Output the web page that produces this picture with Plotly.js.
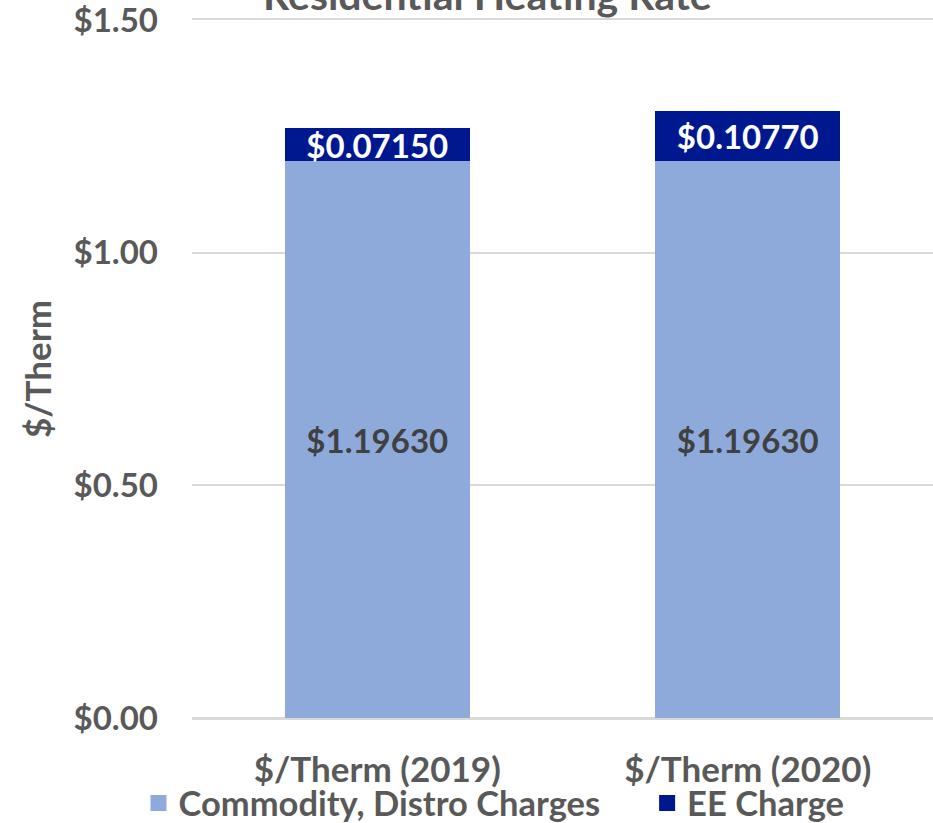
<!DOCTYPE html>
<html>
<head>
<meta charset="utf-8">
<script src="https://cdn.plot.ly/plotly-3.0.1.min.js"></script>
<style>html,body{margin:0;padding:0;background:#fff}#chart{width:933px;height:823px}</style>
</head>
<body>
<div id="chart"></div>
<script>
const categories = ["$/Therm (2019)", "$/Therm (2020)"];
const commodityValues = [1.1963, 1.1963];
const eeValues = [0.0715, 0.1077];
const yTickVals = [0, 0.5, 1.0, 1.5];
const yTickText = ["$0.00", "$0.50", "$1.00", "$1.50"];
const seriesNames = ["Commodity, Distro Charges", "EE Charge"];
const seriesColors = ["#8EAADB", "#00188F"];
const chartTitle = "Residential Heating Rate";

const FONT = "Lato, 'Open Sans', sans-serif";
const GRAY = "#595959";
const GRID = "#d9d9d9";
const PAD = "\u00a0\u00a0\u00a0\u00a0\u00a0";

const traces = [
  {
    type: "bar", name: seriesNames[0], showlegend: false,
    x: categories, y: commodityValues,
    marker: {color: seriesColors[0]},
    text: commodityValues.map(v => "$" + v.toFixed(5)),
    textposition: "inside", insidetextanchor: "middle",
    constraintext: "none",
    textfont: {family: FONT, size: 33, color: "#404040", weight: "bold"},
    hoverinfo: "none"
  },
  {
    type: "bar", name: seriesNames[1], showlegend: false,
    x: categories, y: eeValues,
    marker: {color: seriesColors[1]},
    text: eeValues.map(v => "$" + v.toFixed(5)),
    textposition: "inside", insidetextanchor: "middle",
    constraintext: "none",
    textfont: {family: FONT, size: 33, color: "#ffffff", weight: "bold"},
    hoverinfo: "none"
  },
  // legend entries with larger square swatches
  {
    type: "scatter", mode: "markers", name: seriesNames[0] + PAD,
    x: [null], y: [null],
    marker: {symbol: "square", size: 20, color: seriesColors[0]},
    hoverinfo: "none"
  },
  {
    type: "scatter", mode: "markers", name: seriesNames[1],
    x: [null], y: [null],
    marker: {symbol: "square", size: 20, color: seriesColors[1]},
    hoverinfo: "none"
  }
];

const layout = {
  width: 933, height: 823,
  margin: {l: 192, r: 0, t: 20, b: 105},
  barmode: "stack",
  bargap: 0.5,
  paper_bgcolor: "#fff", plot_bgcolor: "#fff",
  font: {family: FONT, color: GRAY, weight: "bold"},
  annotations: [{
    text: chartTitle, showarrow: false,
    xref: "paper", yref: "paper",
    x: (487 - 192) / 741, xanchor: "center",
    y: 1, yanchor: "middle", yshift: 26,
    font: {family: FONT, size: 41, color: GRAY, weight: "bold"}
  }],
  xaxis: {
    type: "category",
    tickfont: {family: FONT, size: 35, color: GRAY, weight: "bold"},
    ticklabelstandoff: 20,
    showgrid: false, zeroline: false,
    showline: true, mirror: true, linecolor: GRID, linewidth: 2
  },
  yaxis: {
    range: [0, 1.5], autorange: false,
    tickmode: "array",
    tickvals: yTickVals, ticktext: yTickText,
    tickfont: {family: FONT, size: 33, color: GRAY, weight: "bold"},
    ticklabelstandoff: 33,
    ticklabeloverflow: "allow",
    showgrid: true, gridcolor: GRID, gridwidth: 2,
    zeroline: true, zerolinecolor: GRID, zerolinewidth: 2,
    showline: false,
    title: {text: "$/Therm", font: {family: FONT, size: 35, color: GRAY, weight: "bold"}, standoff: 11}
  },
  legend: {
    orientation: "h", x: 494/933, xanchor: "center", xref: "container",
    y: 1 - 803/823, yanchor: "middle", yref: "container",
    bgcolor: "rgba(0,0,0,0)",
    font: {family: FONT, size: 34.5, color: GRAY, weight: "bold"},
    itemwidth: 30,
    traceorder: "normal"
  },
  showlegend: true
};

Plotly.newPlot("chart", traces, layout, {displayModeBar: false, staticPlot: true});
</script>
</body>
</html>
